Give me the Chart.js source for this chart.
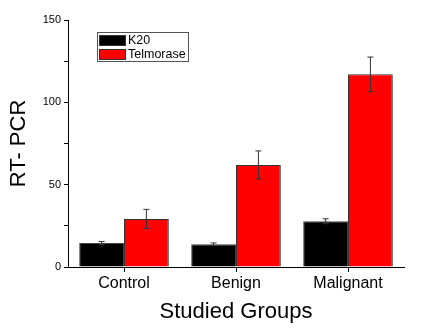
<!DOCTYPE html>
<html>
<head>
<meta charset="utf-8">
<script src="https://cdn.jsdelivr.net/npm/chart.js@4"></script>
<style>
html,body{margin:0;padding:0;background:#fff;}
#wrap{width:422px;height:329px;position:relative;}
</style>
</head>
<body>
<div id="wrap"><canvas id="chart"></canvas></div>
<script>
var groups = ['Control', 'Benign', 'Malignant'];
var k20 = [14.5, 13.8, 27.8];
var k20_err = [1.0, 0.8, 1.5];
var telmorase = [29.2, 62, 117];
var telmorase_err = [5.8, 8.5, 10.5];
var y_ticks = [0, 50, 100, 150];

var font_name = "'Liberation Sans', Arial, sans-serif";

// error bars drawn from the dataset values through the scales
let errorBars = {
	id:'errorBars',
	afterDatasetsDraw:function(chart){
		let ctx = chart.ctx;
		let y = chart.scales.y;
		chart.data.datasets.forEach(function(ds, di){
			let meta = chart.getDatasetMeta(di);
			meta.data.forEach(function(bar, i){
				let v = ds.data[i], e = ds.errors[i];
				let top = y.getPixelForValue(v + e);
				let bot = y.getPixelForValue(v - e);
				ctx.save();
				ctx.strokeStyle = '#333';
				ctx.lineWidth = 1;
				ctx.beginPath();
				ctx.moveTo(bar.x, top); ctx.lineTo(bar.x, bot);
				ctx.moveTo(bar.x - 3, top); ctx.lineTo(bar.x + 3, top);
				ctx.moveTo(bar.x - 3, bot); ctx.lineTo(bar.x + 3, bot);
				ctx.stroke();
				ctx.restore();
			});
		});
	}
};

// boxed legend inside the plot area
let boxLegend = {
	id:'boxLegend',
	afterDraw:function(chart){
		let ctx = chart.ctx;
		let a = chart.chartArea;
		let x0 = a.left + 29, y0 = a.top + 12;
		ctx.save();
		ctx.strokeStyle = '#555';
		ctx.lineWidth = 1;
		ctx.strokeRect(x0 + 0.5, y0 + 0.5, 91, 29);
		ctx.font = '12.5px ' + font_name;
		ctx.textBaseline = 'middle';
		chart.data.datasets.forEach(function(ds, i){
			let ry = y0 + 3 + i * 14;
			ctx.fillStyle = ds.backgroundColor;
			ctx.fillRect(x0 + 2, ry, 26, 10);
			ctx.strokeStyle = '#333';
			ctx.strokeRect(x0 + 2.5, ry + 0.5, 26, 10);
			ctx.fillStyle = '#000';
			ctx.fillText(ds.label, x0 + 31, ry + 6);
		});
		ctx.restore();
	}
};

let ctx = document.querySelector('#chart').getContext('2d');
let chart = new Chart(ctx, {
	type:'bar',
	data:{
		labels:groups,
		datasets:[{
			label:'K20',
			data:k20,
			errors:k20_err,
			backgroundColor:'#000000',
			borderColor:'#444',
			borderWidth:1,
		},{
			label:'Telmorase',
			data:telmorase,
			errors:telmorase_err,
			backgroundColor:'#ff0000',
			borderColor:'#333',
			borderWidth:1,
		}]
	},
	options:{
		responsive:true,
		maintainAspectRatio:false,
		animation:false,
		layout:{padding:{left:0, right:18, top:20, bottom:0}},
		datasets:{bar:{categoryPercentage:0.8, barPercentage:1.0}},
		plugins:{
			legend:{display:false},
			tooltip:{enabled:false},
		},
		scales:{
			x:{
				grid:{display:true, drawOnChartArea:false, offset:false, tickLength:5, color:'#000'},
				border:{color:'#000', width:1},
				ticks:{color:'#000', font:{family:font_name, size:16}, padding:2},
				title:{display:true, text:'Studied Groups', color:'#000', font:{family:font_name, size:22}, padding:{top:8}},
				afterFit:function(s){ s.height = 62; },
			},
			y:{
				min:0, max:150,
				grid:{display:true, drawOnChartArea:false, tickLength:4, color:'#000'},
				border:{color:'#000', width:1},
				afterBuildTicks:function(s){
					s.ticks = [0,25,50,75,100,125,150].map(function(v){ return {value:v}; });
				},
				ticks:{
					color:'#000', font:{family:font_name, size:11}, padding:3,
					callback:function(v){ return y_ticks.indexOf(v) >= 0 ? v : ''; }
				},
				title:{display:true, text:'RT- PCR', color:'#000', font:{family:font_name, size:22}, padding:{top:6, bottom:8}},
				afterFit:function(s){ s.width = 68; },
			},
		},
	},
	plugins:[errorBars, boxLegend]
});
</script>
</body>
</html>
